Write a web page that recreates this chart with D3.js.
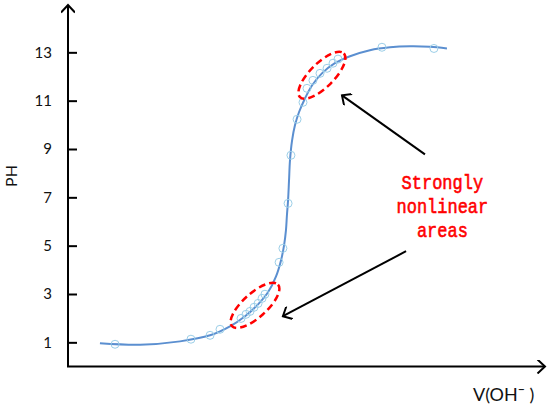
<!DOCTYPE html>
<html lang="en-us">
<meta charset="utf-8">
<head>
<title>Titration curve</title>
<style>
  body { margin: 0; background: #fff; }
  .axis text { font: 15px Lato, sans-serif; fill: #111; }
  .axis line { stroke: #000; stroke-width: 2px; }
  .axis path { display: none; }
  .fit { fill: none; stroke: #5b8fd0; stroke-width: 2px; }
  .pt { fill: none; stroke: #9ccfe8; stroke-width: 1px; }
  .ring { fill: none; stroke: #ff0000; stroke-width: 2.5px; stroke-dasharray: 7 4; }
  .pointer { stroke: #000; stroke-width: 2px; fill: none; }
  .note { font: 17px "Liberation Mono", monospace; fill: #ff0000; stroke: #ff0000; stroke-width: 0.5px; }
</style>
</head>
<body>
<svg width="550" height="407"></svg>
<script src="https://cdn.jsdelivr.net/npm/d3@7"></script>
<script>

// fitted curve (V, pH)
var curveV  = [1.67, 3.77, 5.86, 7.43, 8.47, 9.26, 9.94, 10.46, 10.88, 11.14, 11.30, 11.40, 11.45, 11.51, 11.56, 11.61, 11.72, 11.87, 12.08, 12.40, 12.76, 13.28, 13.96, 14.75, 15.79, 16.84, 17.89, 18.93, 19.82];
var curvePH = [0.96, 0.90, 1.04, 1.29, 1.66, 2.08, 2.57, 3.07, 3.73, 4.39, 5.01, 5.64, 6.26, 6.88, 7.70, 8.53, 9.36, 9.98, 10.52, 11.10, 11.63, 12.13, 12.55, 12.84, 13.09, 13.21, 13.25, 13.23, 13.16];

// measured samples
var sampleV  = [2.46, 6.43, 7.43, 7.95, 9.05, 9.31, 9.52, 9.73, 9.94, 10.15, 10.30, 11.04, 11.24, 11.51, 11.66, 11.98, 12.29, 12.50, 12.81, 13.18, 13.55, 13.86, 14.12, 16.42, 19.14];
var samplePH = [0.92, 1.13, 1.29, 1.54, 1.99, 2.16, 2.28, 2.45, 2.61, 2.82, 2.99, 4.31, 4.89, 6.75, 8.74, 10.23, 10.93, 11.51, 11.84, 12.13, 12.34, 12.55, 12.72, 13.21, 13.16];

var yTicks = [1, 3, 5, 7, 9, 11, 13];

// highlighted regions: centre (V, pH), tilt
var ringV = [13.28, 9.78];
var ringPH = [12.05, 2.53];
var ringTilt = [-45, -42];

// pointers: from label towards region
var arrowFromV = [18.67, 17.68], arrowFromPH = [8.78, 4.77];
var arrowToV = [14.33, 11.24], arrowToPH = [11.22, 2.08];

var noteLines = ["Strongly", "nonlinear", "areas"];
var noteV = 19.58, notePH = 7.33;

var svg = d3.select("svg");

var x = d3.scaleLinear().domain([0, 25]).range([68, 546]);
var y = d3.scaleLinear().domain([0, 15]).range([366.5, 4]);

var defs = svg.append("defs");
defs.append("marker")
    .attr("id", "open")
    .attr("viewBox", "-10 -7 12 14")
    .attr("markerWidth", 12).attr("markerHeight", 14)
    .attr("markerUnits", "userSpaceOnUse")
    .attr("orient", "auto")
  .append("path")
    .attr("d", "M-7.5,-7L0,0L-7.5,7")
    .attr("fill", "none").attr("stroke", "#000").attr("stroke-width", 2);

// axes lines with arrow heads
svg.append("line")
    .attr("class", "pointer")
    .attr("x1", x(0)).attr("y1", y(0)).attr("x2", x(0)).attr("y2", y(15) + 1)
    .attr("marker-end", "url(#open)");
svg.append("line")
    .attr("class", "pointer")
    .attr("x1", x(0) - 1).attr("y1", y(0)).attr("x2", x(25) - 1).attr("y2", y(0))
    .attr("marker-end", "url(#open)");

svg.append("g")
    .attr("class", "axis")
    .attr("transform", "translate(" + x(0) + ",0)")
    .call(d3.axisLeft(y).tickValues(yTicks).tickSizeInner(-9).tickSizeOuter(0).tickPadding(16));

svg.append("text")
    .attr("transform", "translate(17,176) rotate(-90)")
    .attr("text-anchor", "middle")
    .style("font", "16px Lato, sans-serif")
    .attr("fill", "#111")
    .text("PH");

var xl = svg.append("text")
    .attr("x", 473).attr("y", 401)
    .style("font", "18px Lato, sans-serif")
    .attr("fill", "#111");
xl.append("tspan").text("V(OH");
xl.append("tspan").text("\u00AF");
xl.append("tspan").text(" )");

var line = d3.line()
    .curve(d3.curveCatmullRom.alpha(0.5))
    .x(function(d) { return x(d[0]); })
    .y(function(d) { return y(d[1]); });

svg.append("path")
    .datum(d3.zip(curveV, curvePH))
    .attr("class", "fit")
    .attr("d", line);

svg.selectAll(".pt")
    .data(d3.zip(sampleV, samplePH))
  .enter().append("circle")
    .attr("class", "pt")
    .attr("cx", function(d) { return x(d[0]); })
    .attr("cy", function(d) { return y(d[1]); })
    .attr("r", 4);

svg.selectAll(".ring")
    .data(d3.range(ringV.length))
  .enter().append("ellipse")
    .attr("class", "ring")
    .attr("transform", function(i) {
      return "translate(" + x(ringV[i]) + "," + y(ringPH[i]) + ") rotate(" + ringTilt[i] + ")";
    })
    .attr("rx", 31).attr("ry", 12);

svg.selectAll(".arrow")
    .data(d3.range(arrowFromV.length))
  .enter().append("line")
    .attr("class", "pointer arrow")
    .attr("x1", function(i) { return x(arrowFromV[i]); })
    .attr("y1", function(i) { return y(arrowFromPH[i]); })
    .attr("x2", function(i) { return x(arrowToV[i]); })
    .attr("y2", function(i) { return y(arrowToPH[i]); })
    .attr("marker-end", "url(#open)");

svg.append("g")
    .attr("transform", "translate(" + x(noteV) + "," + y(notePH) + ") scale(1,1.2)")
  .selectAll("text")
    .data(noteLines)
  .enter().append("text")
    .attr("class", "note")
    .attr("text-anchor", "middle")
    .attr("y", function(d, i) { return i * 20; })
    .text(function(d) { return d; });

</script>
</body>
</html>
